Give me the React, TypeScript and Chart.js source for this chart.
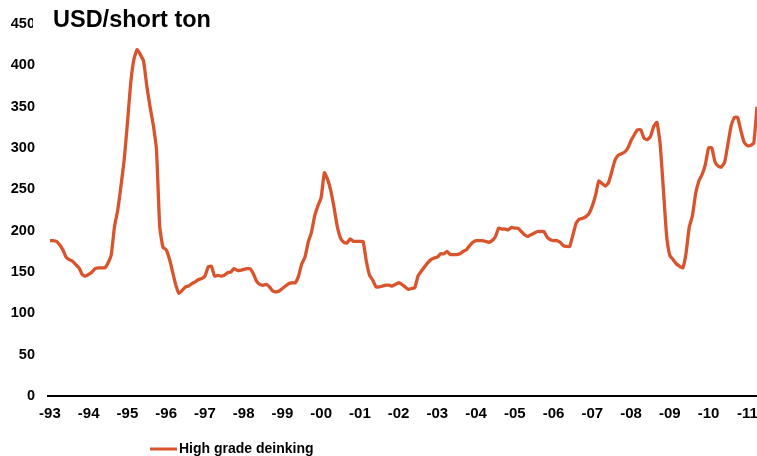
import React, { useEffect, useRef } from "react";
import { Chart, registerables } from "chart.js";

Chart.register(...registerables);

// Year tick labels (one per January, 1993..2011)
const yearLabels: string[] = [
  "-93", "-94", "-95", "-96", "-97", "-98", "-99", "-00", "-01", "-02",
  "-03", "-04", "-05", "-06", "-07", "-08", "-09", "-10", "-11",
];

const seriesName = "High grade deinking";

// Monthly price, USD/short ton, Jan 1993 .. Apr 2011
const y1993 = [188, 188, 187, 183, 177, 168, 165, 163, 159, 155, 147, 145];
const y1994 = [147, 150, 154, 155, 155, 155, 161, 171, 205, 225, 254, 286];
const y1995 = [330, 378, 407, 419, 413, 405, 375, 350, 328, 298, 205, 180];
const y1996 = [177, 166, 150, 134, 124, 128, 132, 133, 136, 138, 141, 142];
const y1997 = [145, 156, 157, 145, 146, 145, 146, 149, 150, 154, 152, 152];
const y1998 = [153, 154, 154, 148, 139, 135, 134, 135, 132, 127, 126, 127];
const y1999 = [130, 133, 136, 137, 137, 145, 160, 168, 186, 198, 218, 230];
const y2000 = [240, 270, 262, 248, 228, 205, 191, 186, 185, 190, 187, 187];
const y2001 = [187, 187, 163, 146, 140, 132, 132, 133, 134, 134, 133, 135];
const y2002 = [137, 135, 132, 129, 130, 131, 145, 151, 156, 161, 165, 167];
const y2003 = [168, 172, 172, 175, 171, 171, 171, 172, 175, 177, 182, 186];
const y2004 = [188, 188, 188, 187, 186, 188, 193, 203, 202, 202, 201, 204];
const y2005 = [203, 203, 199, 195, 193, 195, 197, 199, 199, 199, 192, 189];
const y2006 = [188, 188, 186, 182, 181, 181, 195, 209, 214, 215, 217, 221];
const y2007 = [230, 243, 260, 257, 254, 258, 271, 285, 291, 293, 295, 300];
const y2008 = [309, 316, 322, 322, 312, 310, 314, 326, 331, 305, 250, 194];
const y2009 = [170, 165, 160, 157, 155, 172, 204, 218, 245, 260, 268, 280];
const y2010 = [300, 300, 283, 278, 277, 283, 305, 327, 337, 337, 321, 307];
const y2011 = [303, 303, 306, 350];

const values: number[] = [
  ...y1993, ...y1994, ...y1995, ...y1996, ...y1997, ...y1998, ...y1999,
  ...y2000, ...y2001, ...y2002, ...y2003, ...y2004, ...y2005, ...y2006,
  ...y2007, ...y2008, ...y2009, ...y2010, ...y2011,
];

const yTicks = [0, 50, 100, 150, 200, 250, 300, 350, 400, 450];

const LINE_COLOR = "#d9532c";
const FONT = "'Liberation Sans', Arial, Helvetica, sans-serif";

export default function App() {
  const ref = useRef<HTMLCanvasElement | null>(null);

  useEffect(() => {
    if (!ref.current) return;
    const points = values.map((v, i) => ({ x: i, y: v }));

    const overlay = {
      id: "overlay",
      afterDraw(chart: any) {
        const ctx = chart.ctx;
        ctx.save();
        // title with white backing
        ctx.fillStyle = "#ffffff";
        ctx.fillRect(33, 3, 185, 30);
        ctx.fillStyle = "#000000";
        ctx.font = `bold 23.5px ${FONT}`;
        ctx.textBaseline = "alphabetic";
        ctx.textAlign = "left";
        ctx.fillText("USD/short ton", 53, 27);
        // legend
        ctx.strokeStyle = LINE_COLOR;
        ctx.lineWidth = 3;
        ctx.beginPath();
        ctx.moveTo(150, 449);
        ctx.lineTo(177, 449);
        ctx.stroke();
        ctx.fillStyle = "#000000";
        ctx.font = `bold 14px ${FONT}`;
        ctx.textBaseline = "middle";
        ctx.fillText(seriesName, 179, 449.5);
        ctx.restore();
      },
    };

    const chart = new Chart(ref.current, {
      type: "line",
      data: {
        datasets: [
          {
            label: seriesName,
            data: points,
            borderColor: LINE_COLOR,
            borderWidth: 3.3,
            pointRadius: 0,
            tension: 0.15,
            fill: false,
          },
        ],
      },
      options: {
        responsive: false,
        animation: false,
        layout: { padding: { top: 24, left: 0, right: 0, bottom: 0 } },
        plugins: {
          legend: { display: false },
          tooltip: { enabled: false },
          title: { display: false },
        },
        scales: {
          x: {
            type: "linear",
            min: -0.6,
            max: 219,
            afterBuildTicks: (s: any) => {
              s.ticks = yearLabels.map((_, i) => ({ value: i * 12 }));
            },
            afterFit: (s: any) => {
              s.height = 60;
              s.paddingLeft = 0;
              s.paddingRight = 0;
            },
            grid: { display: true, drawOnChartArea: false, drawTicks: false },
            border: { display: true, color: "#000000", width: 2 },
            ticks: {
              autoSkip: false,
              maxRotation: 0,
              padding: 9,
              color: "#000000",
              font: { family: FONT, size: 15, weight: "bold" },
              callback: (v: any) => {
                const idx = Math.round(Number(v) / 12);
                return yearLabels[idx] ?? "";
              },
            },
          },
          y: {
            min: 0,
            max: 450,
            afterBuildTicks: (s: any) => {
              s.ticks = yTicks.map((v) => ({ value: v }));
            },
            afterFit: (s: any) => {
              s.width = 48;
              s.paddingTop = 0;
              s.paddingBottom = 0;
            },
            grid: { display: false, drawTicks: false },
            border: { display: false },
            ticks: {
              padding: 13,
              color: "#000000",
              font: { family: FONT, size: 14.5, weight: "bold" },
            },
          },
        },
      },
      plugins: [overlay],
    });
    return () => chart.destroy();
  }, []);

  return (
    <div style={{ position: "fixed", left: 0, top: 0, width: 757, height: 456, background: "#fff" }}>
      <canvas ref={ref} width={757} height={456} style={{ display: "block" }} />
    </div>
  );
}
